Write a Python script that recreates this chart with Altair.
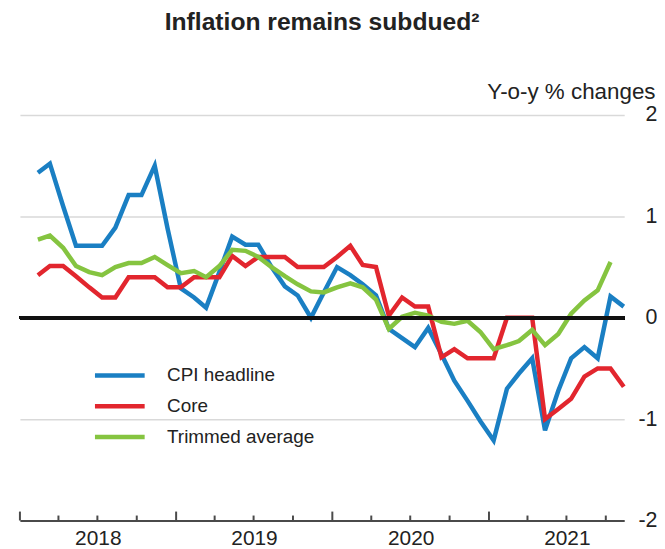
import altair as alt
import pandas as pd

# Monthly observations, Feb 2018 .. Nov 2021
months = [f"{y}-{m:02d}-12" for y in range(2018, 2022) for m in range(1, 13)][1:47]

series_names = ["CPI headline", "Core", "Trimmed average"]
series_colors = ["#1a7fc3", "#e2262e", "#85c440"]

cpi_headline = [
    1.43, 1.52, 1.10, 0.71, 0.71, 0.71, 0.89, 1.21, 1.21, 1.50, 0.88,
    0.29, 0.20, 0.10, 0.45, 0.80, 0.72, 0.72, 0.50, 0.31, 0.22, 0.00, 0.25,
    0.50, 0.42, 0.33, 0.22, -0.11, -0.20, -0.29, -0.10, -0.36, -0.62, -0.82, -1.02,
    -1.21, -0.70, -0.55, -0.40, -1.11, -0.72, -0.40, -0.29, -0.40, 0.21, 0.11,
]
core = [
    0.42, 0.51, 0.51, 0.41, 0.30, 0.20, 0.20, 0.40, 0.40, 0.40, 0.30,
    0.30, 0.40, 0.40, 0.40, 0.61, 0.51, 0.60, 0.60, 0.60, 0.50, 0.50, 0.50,
    0.60, 0.71, 0.52, 0.50, 0.02, 0.20, 0.11, 0.11, -0.39, -0.31, -0.40, -0.40,
    -0.40, 0.00, 0.00, 0.00, -1.00, -0.90, -0.80, -0.58, -0.50, -0.50, -0.68,
]
trimmed_average = [
    0.77, 0.81, 0.69, 0.51, 0.45, 0.42, 0.50, 0.54, 0.54, 0.60, 0.52,
    0.44, 0.46, 0.40, 0.51, 0.67, 0.66, 0.60, 0.50, 0.41, 0.33, 0.26, 0.25,
    0.30, 0.34, 0.30, 0.18, -0.11, 0.01, 0.05, 0.02, -0.04, -0.06, -0.03, -0.14,
    -0.31, -0.27, -0.23, -0.12, -0.27, -0.16, 0.04, 0.17, 0.27, 0.55,
]

y_ticks = [-2, -1, 0, 1, 2]
year_label_years = [2018, 2019, 2020, 2021]
major_tick_dates = ["2018-01-01", "2019-01-01", "2020-01-01", "2021-01-01"]
minor_tick_dates = [f"{y}-{m:02d}-01" for y in range(2018, 2022) for m in (4, 7, 10)]

rows = []
for name, vals in zip(series_names, [cpi_headline, core, trimmed_average]):
    for d, v in zip(months, vals):
        rows.append({"date": d, "value": v, "series": name})
df = pd.DataFrame(rows)

FONT = "Liberation Sans"
TXT = "#222222"
W, H = 608, 408

x_scale = alt.Scale(
    type="utc",
    domain=[alt.DateTime(year=2018, month=1, date=1, utc=True),
            alt.DateTime(year=2021, month=11, date=13, utc=True)],
)
y_scale = alt.Scale(domain=[-2, 2])

x_axis = alt.Axis(
    values=[alt.DateTime(year=y, month=7, date=2, utc=True) for y in year_label_years],
    format="%Y", ticks=False, tickSize=0, grid=False, domainColor="#4a4a4a",
    domainWidth=2, labelFontSize=21, labelPadding=7, labelColor=TXT, labelFont=FONT,
    labelFlush=False, title=None,
)
y_axis = alt.Axis(
    orient="right", values=y_ticks, grid=True, gridColor="#d9d9d9", gridWidth=1.5,
    domain=False, ticks=False, tickSize=0, labelFontSize=21.5, labelAlign="right",
    labelPadding=33, labelColor=TXT, labelFont=FONT, labelExpr="'' + datum.value",
    title="Y-o-y % changes",
    titleAngle=0, titleAlign="right", titleBaseline="alphabetic", titleX=31,
    titleY=-17, titleFontSize=22.5, titleFontWeight="normal", titleColor=TXT,
    titleFont=FONT,
)
legend = alt.Legend(
    title=None, orient="none", legendX=73, legendY=249, symbolType="stroke",
    symbolSize=2500, symbolStrokeWidth=4.5, labelFontSize=19, labelOffset=20,
    clipHeight=26, rowPadding=5, padding=0, labelColor=TXT, labelFont=FONT,
)
color = alt.Color("series:N", scale=alt.Scale(domain=series_names, range=series_colors),
                  legend=legend)

X = alt.X("date:T", scale=x_scale, axis=x_axis)
Y = alt.Y("value:Q", scale=y_scale, axis=y_axis)

zero_line = alt.Chart(df).mark_rule(color="#111111", strokeWidth=3).encode(
    y=alt.datum(0, scale=y_scale, axis=y_axis)
)

line_layers = []
for name in series_names:
    line_layers.append(
        alt.Chart(df).transform_filter(alt.datum.series == name)
        .mark_line(strokeWidth=4.5)
        .encode(x=X, y=Y, color=color)
    )

major_df = pd.DataFrame({"date": major_tick_dates})
minor_df = pd.DataFrame({"date": minor_tick_dates})
major_ticks = alt.Chart(major_df).mark_rule(color="#4a4a4a", strokeWidth=2).encode(
    x=X, y=alt.value(H), y2=alt.value(H - 9)
)
minor_ticks = alt.Chart(minor_df).mark_rule(color="#4a4a4a", strokeWidth=2).encode(
    x=X, y=alt.value(H), y2=alt.value(H - 5)
)

chart = alt.layer(
    *line_layers, zero_line, major_ticks, minor_ticks
).properties(
    width=W, height=H,
    title=alt.TitleParams("Inflation remains subdued²", fontSize=24.8, fontWeight="bold",
                          font=FONT, anchor="middle", offset=46, color=TXT),
    padding={"left": 10, "top": 0, "right": 0, "bottom": 0},
).configure(font=FONT).configure_view(stroke=None)

chart.save("out.html", embed_options={"renderer": "svg", "actions": False})
